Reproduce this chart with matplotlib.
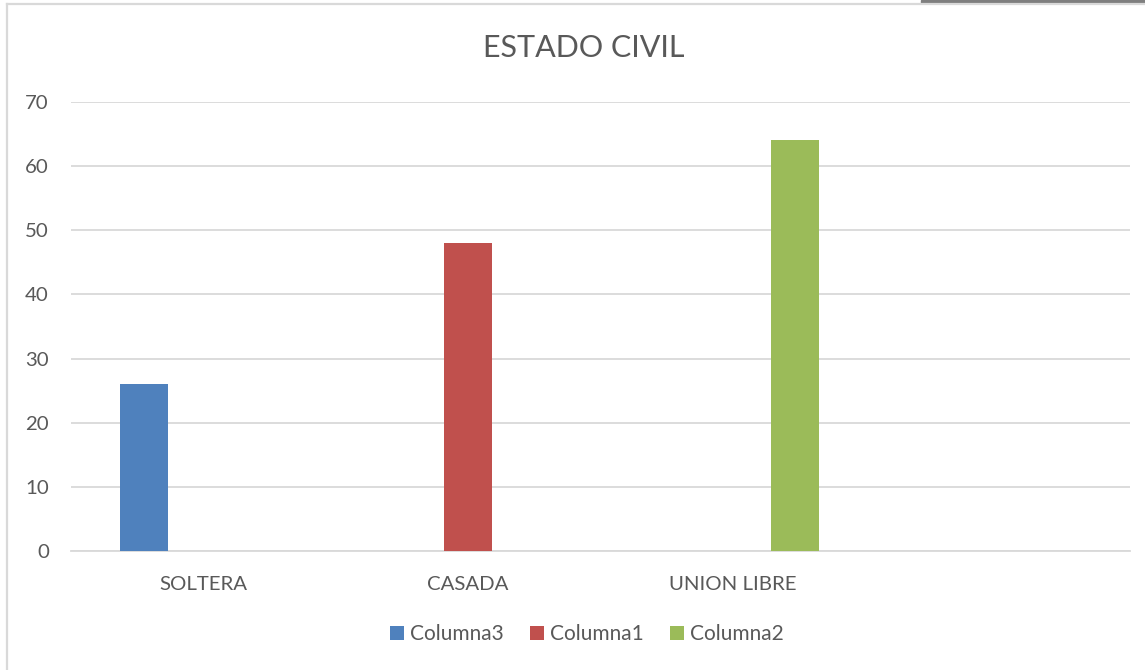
import matplotlib
matplotlib.use("Agg")
import matplotlib.pyplot as plt
import numpy as np
from matplotlib.patches import Rectangle, Patch
from matplotlib.lines import Line2D

categories = ["SOLTERA", "CASADA", "UNION LIBRE", ""]
series_names = ["Columna3", "Columna1", "Columna2"]
columna3 = [26, np.nan, np.nan, np.nan]
columna1 = [np.nan, 48, np.nan, np.nan]
columna2 = [np.nan, np.nan, 64, np.nan]
colors = ["#4F81BD", "#C0504D", "#9BBB59"]
title = "ESTADO CIVIL"
yticks = [0, 10, 20, 30, 40, 50, 60, 70]

W, H = 1145, 670
fig = plt.figure(figsize=(W / 100, H / 100), dpi=100)
plt.rcParams['font.family'] = ['Lato', 'DejaVu Sans']
txt = "#595959"

ax = fig.add_axes([71 / W, 1 - 551 / H, (1130 - 71) / W, (551 - 102) / H])
x = np.arange(len(categories))
width = 0.18
offsets = [-0.225, 0.0, 0.235]
for vals, off, c, n in zip([columna3, columna1, columna2], offsets, colors, series_names):
    ax.bar(x + off, vals, width=width, color=c, label=n, zorder=3)

ax.set_xlim(-0.5, len(categories) - 0.5)
ax.set_ylim(0, 70)
ax.set_yticks(yticks)
ax.set_yticklabels([str(v) for v in yticks])
ax.set_xticks(x)
ax.set_xticklabels(categories)
ax.tick_params(axis='both', length=0, labelsize=14.7, colors=txt)
ax.tick_params(axis='y', pad=16)
ax.tick_params(axis='x', pad=18)
ax.grid(axis='y', color="#D9D9D9", linewidth=1.3, zorder=0)
for s in ["top", "right", "left"]:
    ax.spines[s].set_visible(False)
ax.spines["bottom"].set_color("#D9D9D9")
ax.spines["bottom"].set_linewidth(1.3)

fig.text(584 / W, 1 - 48 / H, title, ha="center", va="center", fontsize=22, color=txt)

handles = [Patch(facecolor=c, edgecolor='none') for c in colors]
fig.legend(handles, series_names, loc="center", bbox_to_anchor=(587 / W, 1 - 634 / H),
           ncol=3, frameon=False, fontsize=15, labelcolor=txt,
           handlelength=0.67, handleheight=0.67, handletextpad=0.29, columnspacing=1.25)

# chart frame
fig.add_artist(Line2D([6.5 / W, 6.5 / W], [0, 1 - 3.5 / H], color="#D9D9D9", linewidth=1.6,
                      transform=fig.transFigure))
fig.add_artist(Line2D([6.5 / W, 1], [1 - 3.5 / H, 1 - 3.5 / H], color="#D9D9D9", linewidth=1.6,
                      transform=fig.transFigure))
fig.add_artist(Rectangle((921 / W, 1 - 3 / H), (W - 921) / W, 3 / H, color="#7F7F7F",
                         transform=fig.transFigure))

fig.savefig("out.png", dpi=100)
